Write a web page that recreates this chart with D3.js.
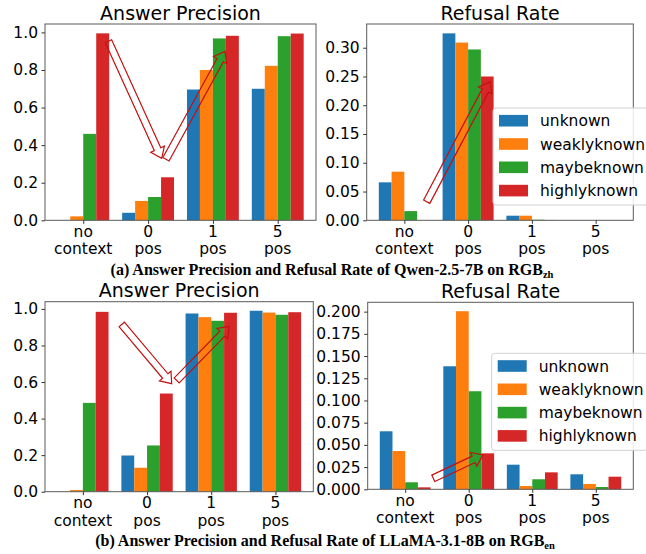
<!DOCTYPE html>
<html><head><meta charset="utf-8">
<script src="https://cdn.jsdelivr.net/npm/d3@7"></script>
<style>html,body{margin:0;padding:0;background:#fff;}svg{display:block;}</style>
</head><body>
<svg id="chart" width="646" height="554"></svg>
<script>
// ---------- data ----------
const categories = ["no\ncontext", "0\npos", "1\npos", "5\npos"];
const seriesNames = ["unknown", "weaklyknown", "maybeknown", "highlyknown"];
const seriesColors = ["#1f77b4", "#ff7f0e", "#2ca02c", "#d62728"];

// values per series (order = categories)
const qwenPrecision = [
  [0.000, 0.040, 0.696, 0.700],
  [0.021, 0.103, 0.800, 0.822],
  [0.460, 0.124, 0.968, 0.980],
  [0.995, 0.229, 0.982, 0.994]
];
const qwenRefusal = [
  [0.066, 0.325, 0.008, 0.000],
  [0.0845, 0.309, 0.008, 0.000],
  [0.016, 0.297, 0.001, 0.000],
  [0.000, 0.250, 0.0005, 0.000]
];
const llamaPrecision = [
  [0.000, 0.198, 0.975, 0.990],
  [0.009, 0.131, 0.955, 0.980],
  [0.486, 0.253, 0.935, 0.968],
  [0.984, 0.537, 0.979, 0.982]
];
const llamaRefusal = [
  [0.0653, 0.1385, 0.0277, 0.0169],
  [0.0431, 0.2005, 0.0037, 0.0060],
  [0.0079, 0.1104, 0.0113, 0.0026],
  [0.0022, 0.0405, 0.0191, 0.0142]
];

const precisionTicks = [0, 0.2, 0.4, 0.6, 0.8, 1.0];
const qwenRefusalTicks = [0, 0.05, 0.10, 0.15, 0.20, 0.25, 0.30];
const llamaRefusalTicks = [0, 0.025, 0.05, 0.075, 0.1, 0.125, 0.15, 0.175, 0.2];

// annotation arrows in data units: [xTail, yTail, xTip, yTip]
const qwenPrecisionArrows = [[0.389, 0.953, 1.21, 0.330], [1.276, 0.325, 2.186, 0.899]];
const qwenRefusalArrows = [[0.351, 0.0323, 1.343, 0.241]];
const llamaPrecisionArrows = [[0.605, 0.915, 1.384, 0.591], [1.462, 0.609, 2.281, 0.904]];
const llamaRefusalArrows = [[0.442, 0.0124, 1.22, 0.0386]];

const captionA = ["(a) Answer Precision and Refusal Rate of Qwen-2.5-7B on RGB", "zh"];
const captionB = ["(b) Answer Precision and Refusal Rate of LLaMA-3.1-8B on RGB", "en"];

// ---------- drawing ----------
const svg = d3.select("#chart");
const FONT = "DejaVu Sans, sans-serif";

function arrowPoints(p0, p1, sh, hh, hl) {
  const dx = p1[0] - p0[0], dy = p1[1] - p0[1];
  const L = Math.hypot(dx, dy), ux = dx / L, uy = dy / L, nx = -uy, ny = ux;
  const bx = p1[0] - ux * hl, by = p1[1] - uy * hl;
  return [
    [p0[0] + nx * sh, p0[1] + ny * sh],
    [bx + nx * sh, by + ny * sh],
    [bx + nx * hh, by + ny * hh],
    [p1[0], p1[1]],
    [bx - nx * hh, by - ny * hh],
    [bx - nx * sh, by - ny * sh],
    [p0[0] - nx * sh, p0[1] - ny * sh]
  ];
}

function drawPanel(cfg) {
  const { left, right, top, bottom, values, ticks, fmt, title, titleY, arrows, legend } = cfg;
  const g = svg.append("g");
  const maxV = d3.max(values.flat());
  const y = d3.scaleLinear().domain([0, maxV * 1.05]).range([bottom, top]);
  const x = d3.scaleLinear().domain([-0.59, 3.59]).range([left, right]);
  const bw = 0.2;
  const offs = [-0.3, -0.1, 0.1, 0.3];

  // bars
  values.forEach((vals, si) => {
    g.selectAll(null).data(vals).enter().append("rect")
      .attr("x", (d, i) => x(i + offs[si] - bw / 2))
      .attr("width", (d, i) => x(i + offs[si] + bw / 2) - x(i + offs[si] - bw / 2))
      .attr("y", d => y(d))
      .attr("height", d => y(0) - y(d))
      .attr("fill", seriesColors[si]);
  });

  // frame
  g.append("rect").attr("x", left).attr("y", top)
    .attr("width", right - left).attr("height", bottom - top)
    .attr("fill", "none").attr("stroke", "#5a5a5a").attr("stroke-width", 1);

  // y axis
  const yAxis = d3.axisLeft(y).tickValues(ticks).tickFormat(d3.format(fmt)).tickSize(3.5).tickPadding(3.5);
  const ya = g.append("g").attr("transform", `translate(${left},0)`).call(yAxis);
  ya.select(".domain").remove();
  ya.selectAll("line").attr("stroke", "#333");
  ya.selectAll("text").attr("font-family", FONT).attr("font-size", 15.5).attr("fill", "#000");

  // x axis
  const xAxis = d3.axisBottom(x).tickValues([0, 1, 2, 3]).tickFormat(() => "").tickSize(3.5);
  const xa = g.append("g").attr("transform", `translate(0,${bottom})`).call(xAxis);
  xa.select(".domain").remove();
  xa.selectAll("line").attr("stroke", "#333");
  categories.forEach((c, i) => {
    const lines = c.split("\n");
    const t = g.append("text").attr("font-family", FONT).attr("font-size", 15.5)
      .attr("text-anchor", "middle").attr("fill", "#000");
    lines.forEach((ln, li) => {
      t.append("tspan").attr("x", x(i)).attr("y", bottom + 16.5 + li * 17.5).text(ln);
    });
  });

  // title
  g.append("text").attr("x", (left + right) / 2).attr("y", titleY)
    .attr("text-anchor", "middle").attr("font-family", FONT).attr("font-size", 19)
    .attr("fill", "#000").text(title);

  // arrows
  arrows.forEach(a => {
    const pts = arrowPoints([x(a[0]), y(a[1])], [x(a[2]), y(a[3])], 3.5, 7.5, 10);
    g.append("polygon").attr("points", pts.map(p => p.join(",")).join(" "))
      .attr("fill", "none").attr("stroke", "#c41010").attr("stroke-width", 1.2)
      .attr("stroke-linejoin", "miter");
  });

  // legend
  if (legend) {
    const lg = g.append("g");
    lg.append("rect").attr("x", legend.x).attr("y", legend.y).attr("rx", 3)
      .attr("width", legend.w).attr("height", legend.h)
      .attr("fill", "#fff").attr("fill-opacity", 0.85).attr("stroke", "#d0d0d0");
    seriesNames.forEach((s, i) => {
      const cy = legend.y + 12.7 + i * 23.3;
      lg.append("rect").attr("x", legend.x + 6).attr("y", cy - 5.8)
        .attr("width", 29).attr("height", 11.6).attr("fill", seriesColors[i]);
      lg.append("text").attr("x", legend.x + 47).attr("y", cy + 5.5)
        .attr("font-family", FONT).attr("font-size", 15.5).attr("fill", "#000").text(s);
    });
  }
}

drawPanel({ left: 45, right: 316, top: 24, bottom: 220.3, values: qwenPrecision, ticks: precisionTicks,
  fmt: ".1f", title: "Answer Precision", titleY: 20, arrows: qwenPrecisionArrows });
drawPanel({ left: 366.7, right: 633.3, top: 24, bottom: 220.3, values: qwenRefusal, ticks: qwenRefusalTicks,
  fmt: ".2f", title: "Refusal Rate", titleY: 20, arrows: qwenRefusalArrows,
  legend: { x: 493, y: 108, w: 155, h: 97 } });
drawPanel({ left: 45, right: 313.3, top: 301.7, bottom: 491.7, values: llamaPrecision, ticks: precisionTicks,
  fmt: ".1f", title: "Answer Precision", titleY: 296.5, arrows: llamaPrecisionArrows });
drawPanel({ left: 367.7, right: 633.3, top: 302.3, bottom: 489.3, values: llamaRefusal, ticks: llamaRefusalTicks,
  fmt: ".3f", title: "Refusal Rate", titleY: 297.5, arrows: llamaRefusalArrows,
  legend: { x: 491.7, y: 353.3, w: 156, h: 97 } });

// captions
function caption(parts, cx, by) {
  const t = svg.append("text").attr("x", cx).attr("y", by).attr("text-anchor", "middle")
    .attr("font-family", "Liberation Serif, Times New Roman, serif").attr("font-weight", "bold")
    .attr("font-size", 16).attr("fill", "#000");
  t.append("tspan").text(parts[0]);
  t.append("tspan").attr("font-size", 10.5).attr("dy", 3).text(parts[1]);
}
caption(captionA, 332, 274.5);
caption(captionB, 325, 545.5);
</script>
</body></html>
